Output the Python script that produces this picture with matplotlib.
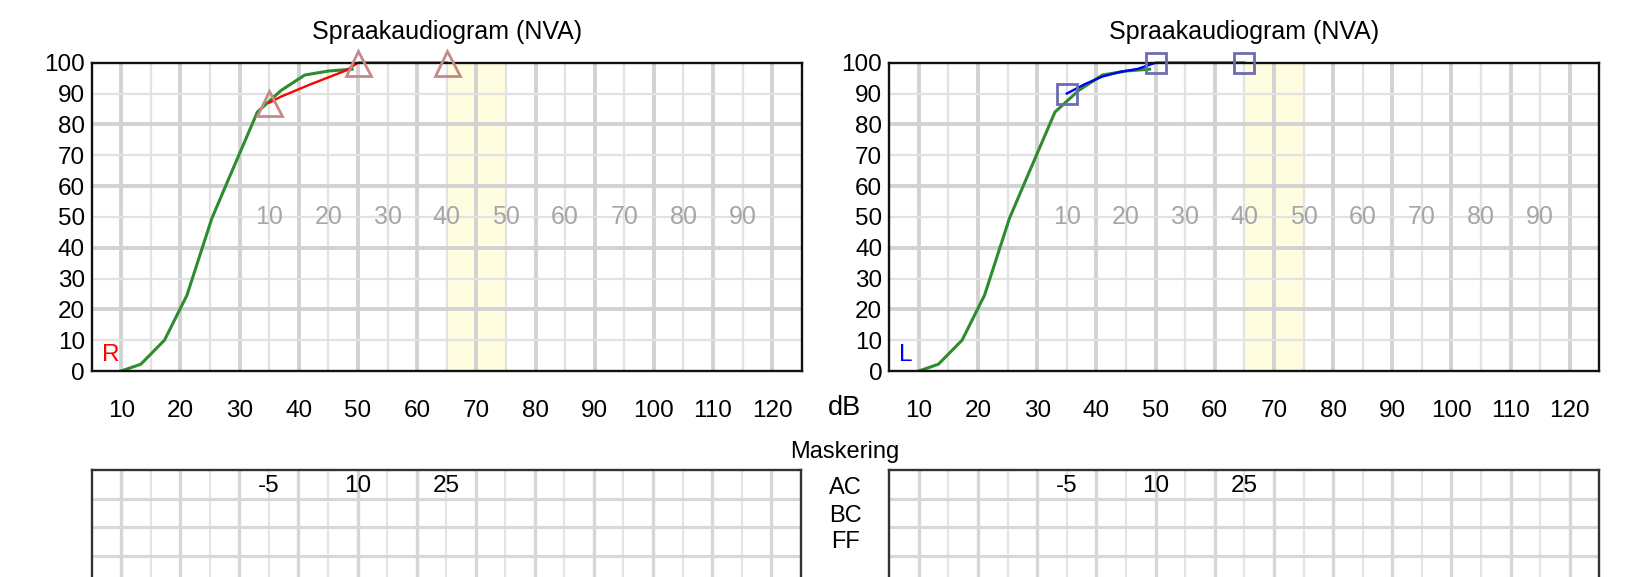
import matplotlib
matplotlib.use("Agg")
import matplotlib.pyplot as plt

plt.rcParams['font.family'] = ['Liberation Sans', 'DejaVu Sans']

W, H = 1639, 577

# ---- data ----
x_ticks = [10, 20, 30, 40, 50, 60, 70, 80, 90, 100, 110, 120]
y_ticks = [0, 10, 20, 30, 40, 50, 60, 70, 80, 90, 100]
inner_label_pos = [35, 45, 55, 65, 75, 85, 95, 105, 115]
inner_label_txt = ['10', '20', '30', '40', '50', '60', '70', '80', '90']

norm_x = [10, 13.3, 17.3, 21.1, 25.3, 28.3, 33, 37, 41, 45, 49]
norm_y = [0, 2.2, 10, 24.6, 49.5, 63, 84, 91, 96, 97.3, 97.9]

right_pts_x = [35, 50, 65]
right_pts_y = [87, 100, 100]
right_line_x = [35, 37, 42, 48, 50, 65]
right_line_y = [87, 89, 93, 97.5, 100, 100]

left_pts_x = [35, 50, 65]
left_pts_y = [90, 100, 100]
left_line_x = [35, 38, 41, 44, 47, 50, 65]
left_line_y = [90, 93, 95.5, 97, 98, 100, 100]

band = (65, 75)
mask_pos = [35, 50, 65]
mask_txt = ['-5', '10', '25']
mask_rows = ['AC', 'BC', 'FF']

fig = plt.figure(figsize=(W / 100, H / 100), dpi=100)


def px_axes(x0, y0, x1, y1):
    return fig.add_axes([x0 / W, 1 - y1 / H, (x1 - x0) / W, (y1 - y0) / H])


def style_top(ax, ear, color, lx, ly, px, py, marker, mcolor, msize):
    ax.set_xlim(5, 125)
    ax.set_ylim(0, 100)
    ax.axvspan(band[0], band[1], color='#fffde0', zorder=0, lw=0)
    for v in range(10, 125, 5):
        thick = (v % 10 == 0)
        ax.axvline(v, color='#d2d2d2' if thick else '#e2e2e2',
                   lw=2.8 if thick else 1.6, zorder=1)
    for h in range(10, 100, 10):
        thick = (h % 20 == 0)
        ax.axhline(h, color='#d2d2d2' if thick else '#e2e2e2',
                   lw=2.8 if thick else 1.6, zorder=1)
    for xp, t in zip(inner_label_pos, inner_label_txt):
        ax.text(xp, 50, t, color='#a6a6a6', fontsize=18, ha='center',
                va='center', zorder=2)
    ax.plot(norm_x, norm_y, color='#2e8b2e', lw=2.2, zorder=3)
    ax.plot(lx, ly, color=color, lw=1.7, zorder=4, clip_on=False)
    ax.plot(px, py, linestyle='none', marker=marker, markersize=msize,
            markerfacecolor='none', markeredgecolor=mcolor,
            markeredgewidth=2.0, zorder=5, clip_on=False)
    ax.text(6.7, 3.3, ear, color=color, fontsize=17.5, ha='left',
            va='baseline', zorder=6)
    ax.set_xticks(x_ticks)
    ax.set_yticks(y_ticks)
    ax.tick_params(length=0, labelsize=17.5, colors='black')
    ax.tick_params(axis='x', pad=21)
    ax.tick_params(axis='y', pad=5)
    for s in ax.spines.values():
        s.set_color('#111111')
        s.set_linewidth(1.7)
        s.set_zorder(4)
    ax.set_facecolor('white')


axL = px_axes(91.7, 62.7, 801.8, 371)
style_top(axL, 'R', '#ff0000', right_line_x, right_line_y,
          right_pts_x, right_pts_y, '^', '#c48a8a', 18)
axR = px_axes(889.3, 62.7, 1599.4, 371)
style_top(axR, 'L', '#0000ff', left_line_x, left_line_y,
          left_pts_x, left_pts_y, 's', '#6c6cb0', 15)

for cx in (446.7, 1244.3):
    fig.text(cx / W, 1 - 32 / H, 'Spraakaudiogram (NVA)', fontsize=18,
             ha='center', va='center')

fig.text(844 / W, 1 - 408 / H, 'dB', fontsize=19.5, ha='center', va='center')
fig.text(845 / W, 1 - 452 / H, 'Maskering', fontsize=17, ha='center',
         va='center')
for t, yy in zip(mask_rows, [488, 515.5, 542]):
    fig.text(845 / W, 1 - yy / H, t, fontsize=17, ha='center', va='center')


def style_bottom(ax):
    ax.set_xlim(5, 125)
    ax.set_ylim(6, 0)
    for v in range(10, 125, 5):
        thick = (v % 10 == 0)
        ax.axvline(v, color='#d6d6d6' if thick else '#e4e4e4',
                   lw=2.4 if thick else 1.6, zorder=1)
    for h in range(1, 6):
        ax.axhline(h, color='#d8d8d8', lw=2.2, zorder=1)
    for xp, t in zip(mask_pos, mask_txt):
        ax.text(xp, 0.55, t, fontsize=17.5, ha='center', va='center',
                zorder=3)
    ax.set_xticks([])
    ax.set_yticks([])
    for s in ax.spines.values():
        s.set_color('#333333')
        s.set_linewidth(1.7)


bL = px_axes(91.7, 470, 800.7, 641)
style_bottom(bL)
bR = px_axes(889.3, 470, 1599.4, 641)
style_bottom(bR)

fig.savefig('out.png', dpi=100)
